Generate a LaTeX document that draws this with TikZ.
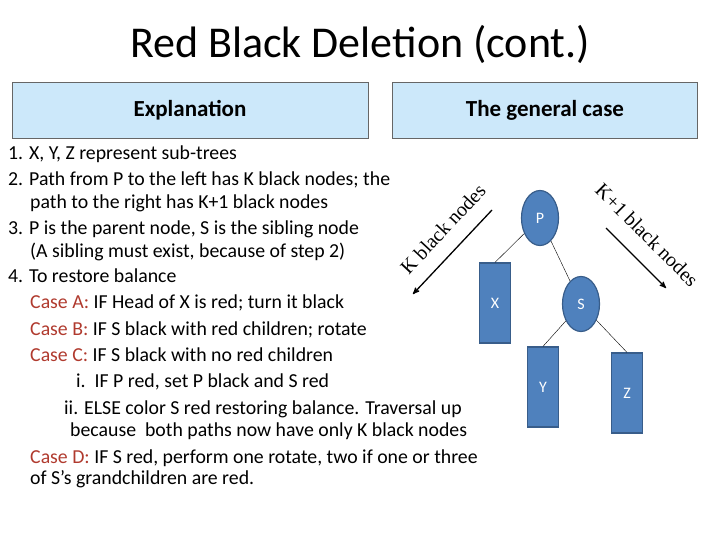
\documentclass[tikz,border=0pt]{standalone}
\usepackage{fontspec}
\setmainfont{Carlito}
\newfontfamily\labelserif{Liberation Serif}
\usetikzlibrary{arrows,shapes.geometric}
\definecolor{headblue}{HTML}{CCE8FA}
\definecolor{nodeblue}{HTML}{4F81BD}
\definecolor{nodeedge}{HTML}{385D8A}
\definecolor{caseRed}{HTML}{B03A2E}
\newcommand{\caselbl}[1]{\textcolor{caseRed}{#1}}

\begin{document}
\begin{tikzpicture}[x=1pt,y=-1pt,
	head box/.style={draw=black!60,fill=headblue,minimum height=56pt,font=\fontsize{23}{27}\selectfont\bfseries},
	line/.style={anchor=base west,inner sep=0pt,font=\fontsize{19.8}{22}\selectfont},
	tree node/.style={ellipse,draw=nodeedge,line width=1.2pt,fill=nodeblue,text=white,minimum width=37pt,minimum height=55pt,inner sep=0pt,font=\fontsize{16}{18}\selectfont},
	sub tree/.style={rectangle,draw=nodeedge,line width=1.2pt,fill=nodeblue,text=white,minimum width=31pt,minimum height=80pt,inner sep=0pt,font=\fontsize{16}{18}\selectfont},
	path arrow/.style={->,>=stealth',line width=1.3pt},
	path label/.style={font=\fontsize{20}{22}\selectfont\labelserif}]
	\useasboundingbox (0,0) rectangle (720,540);
	
	\node[font=\fontsize{44}{50}\selectfont] (title) at (360,44) {Red Black Deletion (cont.)};
	\node[head box,minimum width=356pt] (expl) at (190,110) {Explanation};
	\node[head box,minimum width=305pt] (general) at (545,110) {The general case};
	
	% explanation list
	\node[line] (l1) at (8,160) {1. X, Y, Z represent sub-trees};
	\node[line] (l2) at (8,186) {2. Path from P to the left has K black nodes; the};
	\node[line] (l3) at (30,209) {path to the right has K+1 black nodes};
	\node[line] (l4) at (8,234) {3. P is the parent node, S is the sibling node};
	\node[line] (l5) at (30,257) {(A sibling must exist, because of step 2)};
	\node[line] (l6) at (8,282) {4. To restore balance};
	\node[line] (l7) at (30,308) {\caselbl{Case A:} IF Head of X is red; turn it black};
	\node[line] (l8) at (30,335) {\caselbl{Case B:} IF S black with red children; rotate};
	\node[line] (l9) at (30,361) {\caselbl{Case C:} IF S black with no red children};
	\node[line] (l10) at (76,387) {i.\ \ IF P red, set P black and S red};
	\node[line] (l11) at (64,414) {ii. ELSE color S red restoring balance. Traversal up};
	\node[line] (l12) at (70,436) {because\ \ both paths now have only K black nodes};
	\node[line] (l13) at (30,463) {\caselbl{Case D:} IF S red, perform one rotate, two if one or three};
	\node[line] (l14) at (30,484) {of S's grandchildren are red.};
	
	% the tree
	\node[tree node] (P) at (540,218) {P};
	\node[tree node] (S) at (581,304) {S};
	\node[sub tree] (X) at (495,303) {X};
	\node[sub tree] (Y) at (543,387) {Y};
	\node[sub tree] (Z) at (627,393) {Z};
	\draw (P) -- (X.north);
	\draw (P) -- (S);
	\draw (S) -- (Y.north);
	\draw (S) -- (Z.north);
	
	% black heights
	\coordinate (la) at (492,210);
	\coordinate (lb) at (413,294);
	\coordinate (ra) at (606,228);
	\coordinate (rb) at (666,288);
	\draw[path arrow] (la) -- (lb);
	\draw[path arrow] (ra) -- (rb);
	\node[path label,rotate=47] (lk) at (443,229) {K black nodes};
	\node[path label,rotate=-45] (rk) at (647,235) {K+1 black nodes};
\end{tikzpicture}
\end{document}
